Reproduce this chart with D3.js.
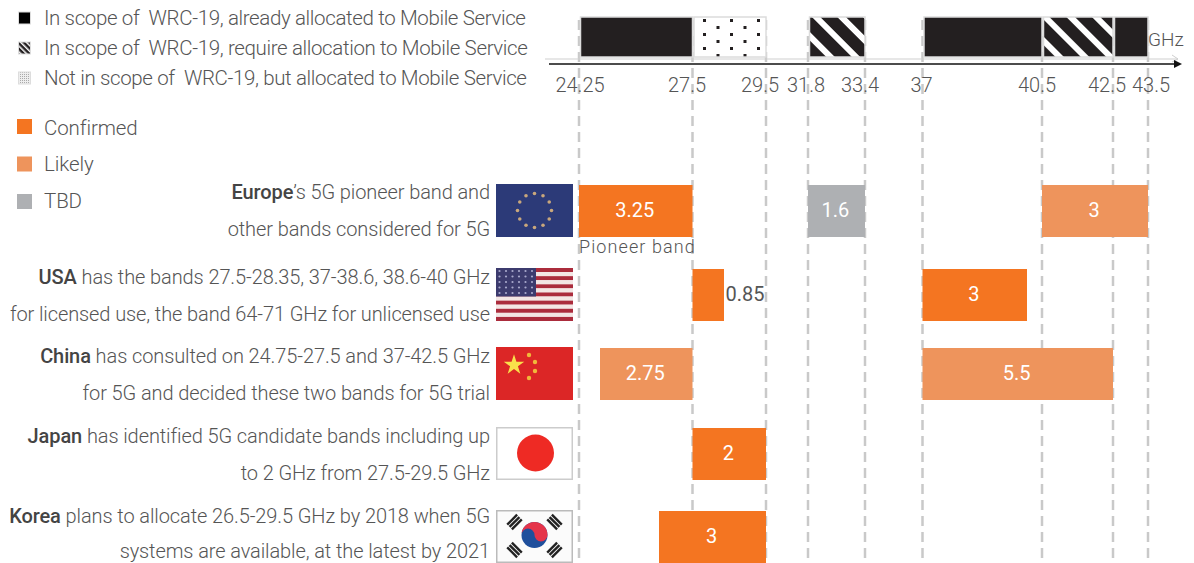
<!DOCTYPE html>
<html>
<head>
<meta charset="utf-8">
<script src="https://cdn.jsdelivr.net/npm/d3@7"></script>
<style>
  html, body { margin: 0; padding: 0; background: #fff; }
  svg { display: block; }
  text { font-family: Roboto, sans-serif; font-weight: 300; fill: #555; }
  .strong { font-weight: 500; fill: #444; }
</style>
</head>
<body>
<script>
// frequency axis
var tickValues = [24.25, 27.5, 29.5, 31.8, 33.4, 37, 40.5, 42.5, 43.5]
var tickLabels = ['24.25', '27.5', '29.5', '31.8', '33.4', '37', '40.5', '42.5', '43.5']

// top allocation strip
var stripStart = [24.25, 27.5, 31.8, 37, 40.5, 42.5]
var stripEnd = [27.5, 29.5, 33.4, 40.5, 42.5, 43.5]
var stripKind = ['allocated', 'notInScope', 'require', 'allocated', 'require', 'allocated']

// legends
var scopeLegend = [
  'In scope of  WRC-19, already allocated to Mobile Service',
  'In scope of  WRC-19, require allocation to Mobile Service',
  'Not in scope of  WRC-19, but allocated to Mobile Service'
]
var scopeKinds = ['allocated', 'require', 'notInScope']
var statusLegend = ['Confirmed', 'Likely', 'TBD']

// regions
var regions = ['Europe', 'USA', 'China', 'Japan', 'Korea']
var regionLines = [
  ['’s 5G pioneer band and', 'other bands considered for 5G'],
  [' has the bands 27.5-28.35, 37-38.6, 38.6-40 GHz', 'for licensed use, the band 64-71 GHz for unlicensed use'],
  [' has consulted on 24.75-27.5 and 37-42.5 GHz', 'for 5G and decided these two bands for 5G trial'],
  [' has identified 5G candidate bands including up', 'to 2 GHz from 27.5-29.5 GHz'],
  [' plans to allocate 26.5-29.5 GHz by 2018 when 5G', 'systems are available, at the latest by 2021']
]

// band bars
var barRegion = ['Europe', 'Europe', 'Europe', 'USA', 'USA', 'China', 'China', 'Japan', 'Korea']
var barStart = [24.25, 31.8, 40.5, 27.5, 37, 24.75, 37, 27.5, 26.5]
var barEnd = [27.5, 33.4, 43.5, 28.35, 40, 27.5, 42.5, 29.5, 29.5]
var barStatus = ['Confirmed', 'TBD', 'Likely', 'Confirmed', 'Confirmed', 'Likely', 'Likely', 'Confirmed', 'Confirmed']
var barLabel = ['3.25', '1.6', '3', '0.85', '3', '2.75', '5.5', '2', '3']

var screen_ = { width: 1194, height: 563 }

var svg = d3.select('body').append('svg')
  .attr('width', screen_.width)
  .attr('height', screen_.height)

// the axis is not to scale, so every frequency that is drawn gets its own place
var xScale = d3.scaleLinear()
  .domain([24.25, 24.75, 26.5, 27.5, 28.35, 29.5, 31.8, 33.4, 37, 40, 40.5, 42.5, 43.5])
  .range([579, 600, 659, 692.5, 724, 766, 808, 865, 922.5, 1027, 1042, 1113, 1148])

var rowTop = d3.scaleOrdinal()
  .domain(regions)
  .range([185, 269, 348, 428, 511])

var textBase = d3.scaleOrdinal()
  .domain(regions)
  .range([199, 284, 363, 443, 523])

var barHeight = 52

var statusColor = d3.scaleOrdinal()
  .domain(statusLegend)
  .range(['#f47521', '#ee945c', '#aeb0b3'])

// patterns
var defs = svg.append('defs')

var stripes = defs.append('pattern')
  .attr('id', 'require')
  .attr('patternUnits', 'userSpaceOnUse')
  .attr('width', 18)
  .attr('height', 18)
  .attr('patternTransform', 'rotate(-45 808 16)')
stripes.append('rect').attr('width', 18).attr('height', 18).attr('fill', '#231f20')
stripes.append('rect').attr('width', 6).attr('height', 18).attr('fill', '#fff')

var miniStripes = defs.append('pattern')
  .attr('id', 'requireSmall')
  .attr('patternUnits', 'userSpaceOnUse')
  .attr('width', 4)
  .attr('height', 4)
  .attr('patternTransform', 'rotate(-45)')
miniStripes.append('rect').attr('width', 4).attr('height', 4).attr('fill', '#231f20')
miniStripes.append('rect').attr('width', 1.5).attr('height', 4).attr('fill', '#fff')

var dots = defs.append('pattern')
  .attr('id', 'notInScope')
  .attr('patternUnits', 'userSpaceOnUse')
  .attr('x', 703)
  .attr('y', 19)
  .attr('width', 27)
  .attr('height', 14)
dots.append('rect').attr('width', 27).attr('height', 14).attr('fill', '#fff')
dots.append('rect').attr('width', 3).attr('height', 3).attr('fill', '#231f20')
dots.append('rect').attr('x', 13.5).attr('y', 7).attr('width', 3).attr('height', 3).attr('fill', '#231f20')

var miniDots = defs.append('pattern')
  .attr('id', 'notInScopeSmall')
  .attr('patternUnits', 'userSpaceOnUse')
  .attr('width', 2)
  .attr('height', 2)
miniDots.append('rect').attr('width', 2).attr('height', 2).attr('fill', '#eee')
miniDots.append('rect').attr('width', 1).attr('height', 1).attr('fill', '#aaa')

function stripFill(kind) {
  return kind == 'allocated' ? '#231f20' : 'url(#' + kind + ')'
}

// legends
svg.append('g').selectAll('rect')
  .data(scopeKinds)
  .enter()
  .append('rect')
  .attr('x', 18.5)
  .attr('y', function(d, i) { return 12 + i * 30 })
  .attr('width', 12)
  .attr('height', 12)
  .attr('fill', function(d) { return d == 'allocated' ? '#000' : 'url(#' + d + 'Small)' })
  .attr('stroke', '#ddd')

svg.append('g').selectAll('text')
  .data(scopeLegend)
  .enter()
  .append('text')
  .attr('x', 44)
  .attr('y', function(d, i) { return 25 + i * 30 })
  .attr('font-size', 20.5)
  .style('letter-spacing', '-0.37px')
  .style('white-space', 'pre')
  .text(function(d) { return d })

svg.append('g').selectAll('rect')
  .data(statusLegend)
  .enter()
  .append('rect')
  .attr('x', 17)
  .attr('y', function(d, i) { return 119 + i * 37.5 })
  .attr('width', 15)
  .attr('height', 15)
  .attr('fill', function(d) { return statusColor(d) })

svg.append('g').selectAll('text')
  .data(statusLegend)
  .enter()
  .append('text')
  .attr('x', 44)
  .attr('y', function(d, i) { return 135 + i * 36.4 })
  .attr('font-size', 20.5)
  .style('letter-spacing', '-0.1px')
  .text(function(d) { return d })

// dashed guide lines
svg.append('g').selectAll('line')
  .data(tickValues)
  .enter()
  .append('line')
  .attr('x1', function(d) { return xScale(d) })
  .attr('x2', function(d) { return xScale(d) })
  .attr('y1', 20)
  .attr('y2', 563)
  .attr('stroke', '#c9c9c9')
  .attr('stroke-width', 2.5)
  .attr('stroke-dasharray', '10 6')

// top strip
svg.append('g').selectAll('rect')
  .data(stripKind)
  .enter()
  .append('rect')
  .attr('x', function(d, i) { return xScale(stripStart[i]) + 1.5 })
  .attr('y', 17)
  .attr('width', function(d, i) { return xScale(stripEnd[i]) - xScale(stripStart[i]) - 1.5 })
  .attr('height', 40)
  .attr('fill', function(d) { return stripFill(d) })
  .attr('stroke', '#dcdcdc')
  .attr('stroke-width', 1.5)

// axis lines
svg.append('line')
  .attr('x1', 545).attr('x2', 1178)
  .attr('y1', 59).attr('y2', 59)
  .attr('stroke', '#cfcfcf')
  .attr('stroke-width', 1.2)
svg.append('path')
  .attr('d', d3.line()([[1172, 55], [1178, 59], [1172, 62]]))
  .attr('fill', 'none')
  .attr('stroke', '#cfcfcf')
svg.append('line')
  .attr('x1', 549).attr('x2', 1176)
  .attr('y1', 64).attr('y2', 64)
  .attr('stroke', '#111')
  .attr('stroke-width', 1.4)
svg.append('path')
  .attr('d', d3.line()([[1174, 60], [1182, 64], [1174, 68]]))
  .attr('fill', '#111')

svg.append('text')
  .attr('x', 1148)
  .attr('y', 46)
  .attr('font-size', 19)
  .text('GHz')

// tick labels, some sit a little left of their tick
var tickNudge = [1, -5.5, -6, -2, -5, -1, -5, -6, 3]
svg.append('g').selectAll('text')
  .data(tickLabels)
  .enter()
  .append('text')
  .attr('x', function(d, i) { return xScale(tickValues[i]) + tickNudge[i] })
  .attr('y', 92)
  .attr('text-anchor', 'middle')
  .attr('font-size', 20)
  .text(function(d) { return d })

// bars
svg.append('g').selectAll('rect')
  .data(barRegion)
  .enter()
  .append('rect')
  .attr('x', function(d, i) { return xScale(barStart[i]) })
  .attr('y', function(d) { return rowTop(d) })
  .attr('width', function(d, i) { return xScale(barEnd[i]) - xScale(barStart[i]) })
  .attr('height', barHeight)
  .attr('fill', function(d, i) { return statusColor(barStatus[i]) })

svg.append('g').selectAll('text')
  .data(barRegion)
  .enter()
  .append('text')
  .attr('x', function(d, i) {
    if (barLabel[i] == '0.85') return xScale(barEnd[i]) + 21
    return (xScale(barStart[i]) + xScale(barEnd[i])) / 2 - 1
  })
  .attr('y', function(d) { return rowTop(d) + 31.5 })
  .attr('text-anchor', 'middle')
  .attr('font-size', 20)
  .style('font-weight', 400)
  .style('fill', function(d, i) { return barLabel[i] == '0.85' ? '#555' : '#fff' })
  .text(function(d, i) { return barLabel[i] })

svg.append('text')
  .attr('x', 579)
  .attr('y', 253)
  .attr('font-size', 18)
  .style('letter-spacing', '1.1px')
  .text('Pioneer band')

// region text, the last line must stay inside the page
regions.forEach(function(region, r) {
  regionLines[r].forEach(function(line, l) {
    var t = svg.append('text')
      .attr('x', 490)
      .attr('y', Math.min(textBase(region) + l * 37, 557.5))
      .attr('text-anchor', 'end')
      .attr('font-size', 20)
      .style('letter-spacing', '-0.1px')
    if (l == 0) t.append('tspan').attr('class', 'strong').text(region)
    t.append('tspan').text(line)
  })
})

// flags
var flagW = 77
var flagH = 53
var flag = {}
regions.forEach(function(region) {
  flag[region] = svg.append('g')
    .attr('transform', 'translate(496,' + (rowTop(region) - 1) + ')')
})

flag.Europe.append('rect').attr('width', flagW).attr('height', flagH).attr('fill', '#2c3a78')
flag.Europe.selectAll('circle')
  .data(d3.range(12))
  .enter()
  .append('circle')
  .attr('cx', function(d) { return 38.5 + 17 * Math.cos(d * Math.PI / 6) })
  .attr('cy', function(d) { return 26.5 + 17 * Math.sin(d * Math.PI / 6) })
  .attr('r', 1.8)
  .attr('fill', '#c9a77c')

flag.USA.selectAll('rect')
  .data(d3.range(13))
  .enter()
  .append('rect')
  .attr('y', function(d) { return d * flagH / 13 })
  .attr('width', flagW)
  .attr('height', flagH / 13)
  .attr('fill', function(d) { return d % 2 ? '#f3e6e4' : '#ab2c3c' })
flag.USA.append('rect').attr('width', 40).attr('height', 28.5).attr('fill', '#3c3b6e')
flag.USA.append('g').selectAll('circle')
  .data(d3.range(30))
  .enter()
  .append('circle')
  .attr('cx', function(d) { return 3.5 + (d % 6) * 6.5 })
  .attr('cy', function(d) { return 3 + Math.floor(d / 6) * 5.5 })
  .attr('r', 1.1)
  .attr('fill', '#a9a9cc')

flag.China.append('rect').attr('width', flagW).attr('height', flagH).attr('fill', '#dc2626')
flag.China.append('path')
  .attr('d', d3.symbol().type(d3.symbolStar).size(130)())
  .attr('transform', 'translate(18,18)')
  .attr('fill', '#f9e14b')
flag.China.selectAll('circle')
  .data([[33, 8], [39, 15], [39, 24], [33, 31]])
  .enter()
  .append('circle')
  .attr('cx', function(d) { return d[0] })
  .attr('cy', function(d) { return d[1] })
  .attr('r', 2.2)
  .attr('fill', '#f0b93a')

flag.Japan.append('rect')
  .attr('x', 0.75).attr('y', 0.75)
  .attr('width', flagW - 1.5).attr('height', flagH - 1.5)
  .attr('fill', '#fff').attr('stroke', '#ccc').attr('stroke-width', 1.5)
flag.Japan.append('circle')
  .attr('cx', 39.5).attr('cy', 26).attr('r', 18.5).attr('fill', '#ee2a24')

flag.Korea.append('rect')
  .attr('x', 0.75).attr('y', 0.75)
  .attr('width', flagW - 1.5).attr('height', flagH - 1.5)
  .attr('fill', '#fbfbfb').attr('stroke', '#bbb').attr('stroke-width', 1.5)
flag.Korea.append('circle').attr('cx', 38.5).attr('cy', 25).attr('r', 13).attr('fill', '#1f4f9c')
flag.Korea.append('path')
  .attr('d', 'M25.5 25A13 13 0 0 1 51.5 25A6.5 6.5 0 0 1 38.5 25A6.5 6.5 0 0 0 25.5 25Z')
  .attr('fill', '#e5344a')
var trigramPlaces = [[-20, -14, 45], [20, -14, -45], [-20, 14, -45], [20, 14, 45]]
trigramPlaces.forEach(function(p) {
  flag.Korea.append('g')
    .attr('transform', 'translate(' + (38.5 + p[0]) + ',' + (26 + p[1]) + ') rotate(' + p[2] + ')')
    .selectAll('rect')
    .data(d3.range(3))
    .enter()
    .append('rect')
    .attr('x', function(d) { return -4.5 + d * 3.3 })
    .attr('y', -7)
    .attr('width', 2.4)
    .attr('height', 14)
    .attr('fill', '#222')
})
</script>
</body>
</html>
